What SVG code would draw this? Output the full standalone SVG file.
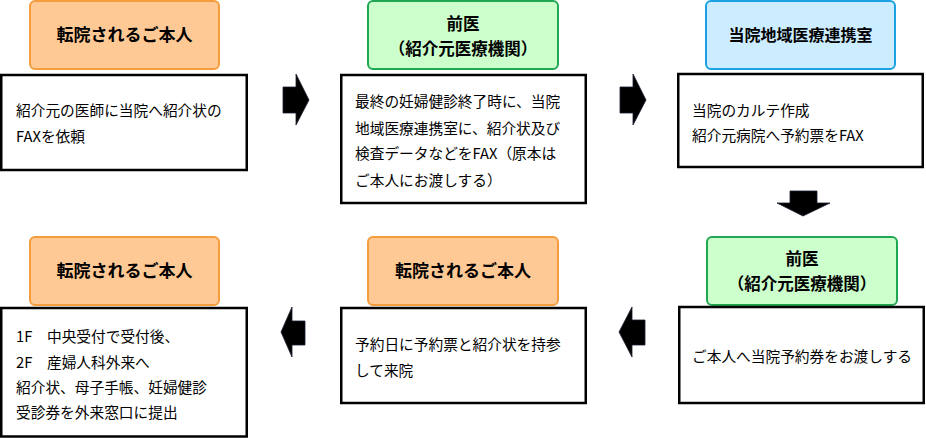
<svg xmlns="http://www.w3.org/2000/svg" width="926" height="438" viewBox="0 0 926 438">
<style>
.hdr-o{fill:#FFC995;stroke:#F59D3D;stroke-width:2}
.hdr-g{fill:#CCFFCC;stroke:#1FA851;stroke-width:2}
.hdr-b{fill:#CCECFF;stroke:#1BA1E2;stroke-width:2}
.box{fill:#FFFFFF;stroke:#000000;stroke-width:2.5}
.ht{font-family:"Noto Sans CJK JP","Noto Sans",sans-serif;font-weight:bold;font-size:17px;fill:#000;text-anchor:middle}
.ht2{font-size:16.5px}
.bt{font-family:"Noto Sans CJK JP","Noto Sans",sans-serif;font-size:14.7px;fill:#000}
.arrow{fill:#000;stroke:#1a2030;stroke-width:0.8}
</style>
<rect width="926" height="438" fill="#FFFFFF"/>

<g id="hdr1">
<rect class="hdr-o" x="30" y="1" width="189" height="68" rx="5"/>
<text class="ht" x="124.5" y="41">転院されるご本人</text>
</g>
<g id="box1">
<rect class="box" x="1.25" y="75" width="245.5" height="95"/>
<text class="bt" x="16" y="115.5">紹介元の医師に当院へ紹介状の</text>
<text class="bt" x="16" y="142">FAXを依頼</text>
</g>

<g id="hdr2">
<rect class="hdr-g" x="368" y="1" width="190" height="68" rx="5"/>
<text class="ht ht2" x="463" y="30">前医</text>
<text class="ht ht2" x="463" y="54.5">（紹介元医療機関）</text>
</g>
<g id="box2">
<rect class="box" x="341.25" y="75" width="244.5" height="128"/>
<text class="bt" x="355" y="107">最終の妊婦健診終了時に、当院</text>
<text class="bt" x="355" y="133.5">地域医療連携室に、紹介状及び</text>
<text class="bt" x="355" y="159">検査データなどをFAX（原本は</text>
<text class="bt" x="355" y="185.5">ご本人にお渡しする）</text>
</g>

<g id="hdr3">
<rect class="hdr-b" x="706" y="1" width="189" height="68" rx="5"/>
<text class="ht" x="800.5" y="41" style="font-size:16px">当院地域医療連携室</text>
</g>
<g id="box3">
<rect class="box" x="678.25" y="74" width="244.5" height="93"/>
<text class="bt" x="692" y="115.5">当院のカルテ作成</text>
<text class="bt" x="692" y="140.5">紹介元病院へ予約票をFAX</text>
</g>

<g id="hdr6">
<rect class="hdr-g" x="707" y="237" width="190" height="68" rx="5"/>
<text class="ht ht2" x="802" y="265">前医</text>
<text class="ht ht2" x="802" y="289.5">（紹介元医療機関）</text>
</g>
<g id="box6">
<rect class="box" x="679.25" y="307" width="244.5" height="96"/>
<text class="bt" x="692" y="362">ご本人へ当院予約券をお渡しする</text>
</g>

<g id="hdr5">
<rect class="hdr-o" x="368" y="237" width="190" height="68" rx="5"/>
<text class="ht" x="463" y="277">転院されるご本人</text>
</g>
<g id="box5">
<rect class="box" x="341.25" y="308" width="244.5" height="95"/>
<text class="bt" x="355" y="350">予約日に予約票と紹介状を持参</text>
<text class="bt" x="355" y="375.5">して来院</text>
</g>

<g id="hdr4">
<rect class="hdr-o" x="30" y="237" width="189" height="68" rx="5"/>
<text class="ht" x="124.5" y="277">転院されるご本人</text>
</g>
<g id="box4">
<rect class="box" x="1.25" y="308" width="245.5" height="128.5"/>
<text class="bt" x="16" y="342">1F　中央受付で受付後、</text>
<text class="bt" x="16" y="367.5">2F　産婦人科外来へ</text>
<text class="bt" x="16" y="392.5">紹介状、母子手帳、妊婦健診</text>
<text class="bt" x="16" y="418">受診券を外来窓口に提出</text>
</g>

<g id="connectors">
<polygon class="arrow" points="283,87 296,87 296,74 309,100 296,125 296,113 283,113"/>
<polygon class="arrow" points="620,87 633,87 633,74 646,100 633,125 633,113 620,113"/>
<polygon class="arrow" points="790,191 817,191 817,203 830,203 803,216 777,203 790,203"/>
<polygon class="arrow" points="645,320 632,320 632,307 619,332 632,357 632,345 645,345"/>
<polygon class="arrow" points="305,321 292,321 292,307 281,332 292,357 292,345 305,345"/>
</g>
</svg>
